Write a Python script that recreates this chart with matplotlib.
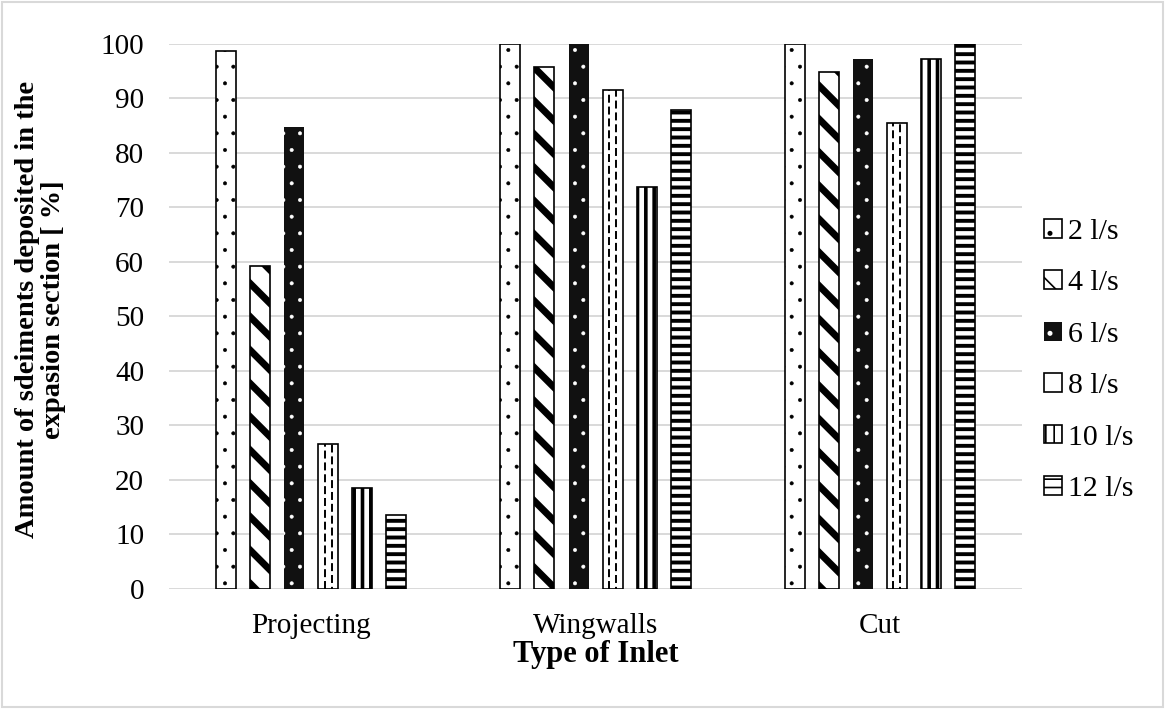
import numpy as np
import matplotlib
matplotlib.use("Agg")
import matplotlib.pyplot as plt
from matplotlib.patches import Rectangle

# data
inlets = ["Projecting", "Wingwalls", "Cut"]
flows = ["2 l/s", "4 l/s", "6 l/s", "8 l/s", "10 l/s", "12 l/s"]
q2 = [98.7, 100.0, 100.0]
q4 = [59.2, 95.8, 94.8]
q6 = [84.8, 100.0, 97.2]
q8 = [26.5, 91.5, 85.5]
q10 = [18.6, 73.7, 97.1]
q12 = [13.6, 87.9, 100.0]
y_ticks = [0, 10, 20, 30, 40, 50, 60, 70, 80, 90, 100]

series = [q2, q4, q6, q8, q10, q12]

# face, edge(=hatch colour), hatch, hatch linewidth, border width
styles = [
    ("white", "black", ".", 0.4, 1.2),
    ("white", "black", "\\", 5.0, 1.2),
    ("#111111", "white", ".", 0.4, 0.0),
    ("white", "black", None, 1.0, 1.2),
    ("white", "black", "||", 2.6, 1.2),
    ("white", "black", "--", 2.8, 1.2),
]

plt.rcParams['font.family'] = ['Liberation Serif', 'DejaVu Serif']

fig = plt.figure(figsize=(11.66, 7.09), dpi=100)
ax = fig.add_axes([0.145, 0.1693, 0.7315, 0.7691])

x = np.arange(len(inlets))
step = 0.1197
width = 0.0704

handles = []
for i, (vals, st) in enumerate(zip(series, styles)):
    face, edge, hatch, hlw, blw = st
    pos = x + (i - 2.5) * step
    # hatch linewidth is picked up when the patches are created
    with plt.rc_context({'hatch.linewidth': hlw}):
        bars = ax.bar(pos, vals, width, color=face, edgecolor=edge, hatch=hatch,
                      linewidth=blw, zorder=3, label=flows[i])
    if i == 3:
        # dashed vertical strokes inside the 8 l/s bars
        off = width * 0.18
        ax.vlines(pos - off, 0, vals, colors="black", linewidth=1.4,
                  linestyles=[(0, (4.1, 2.0))], zorder=4)
        ax.vlines(pos + off, 0, vals, colors="black", linewidth=1.4,
                  linestyles=[(3.0, (4.1, 2.0))], zorder=4)
    handles.append(bars)

ax.set_xlim(-0.5, 2.5)
ax.set_ylim(0, 100)
ax.set_yticks(y_ticks)
ax.set_xticks(x)
ax.set_xticklabels(inlets)
ax.tick_params(axis="both", length=0, labelsize=21)
ax.tick_params(axis="y", pad=18)
ax.tick_params(axis="x", pad=17)

for s in ax.spines.values():
    s.set_visible(False)
ax.grid(axis="y", color="#d9d9d9", linewidth=1.4, zorder=0)
ax.set_axisbelow(True)

ax.set_xlabel("Type of Inlet", fontsize=22, fontweight="bold", labelpad=1)
ax.set_ylabel("Amount of sdeiments deposited in the\nexpasion section [ %]",
              fontsize=20.5, fontweight="bold", linespacing=1.05)
ax.yaxis.set_label_coords(-0.121, 0.513)

with plt.rc_context({'hatch.linewidth': 1.2}):
    leg = fig.legend(handles=handles, labels=flows, loc="upper left",
                     bbox_to_anchor=(0.885, 0.708), frameon=False, fontsize=21.5,
                     handlelength=0.6, handleheight=0.6, handletextpad=0.22,
                     labelspacing=0.85, borderaxespad=0)

fig.patches.append(Rectangle((0.002, 0.003), 0.995, 0.994, transform=fig.transFigure,
                             facecolor="none", edgecolor="#d9d9d9", linewidth=1.5))

fig.savefig("out.png", dpi=100)
